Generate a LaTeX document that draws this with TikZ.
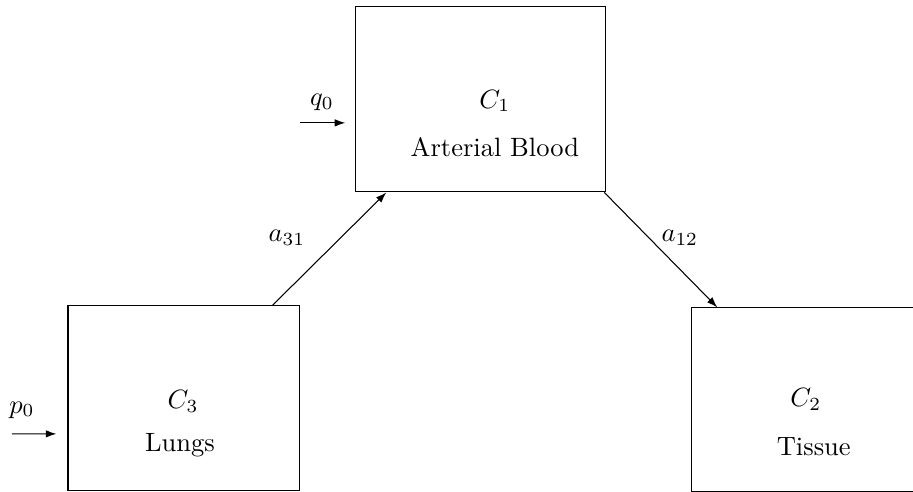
\documentclass[tikz,border=0pt]{standalone}
\usepackage{tikz}
\usetikzlibrary{arrows.meta,positioning}

\begin{document}
\begin{tikzpicture}[
  every node/.style={font=\normalsize},
  comp/.style={draw,minimum width=3.315cm,minimum height=2.453cm,inner sep=0pt},
  lbl/.style={inner sep=1pt},
  flow/.style={-{Latex[length=4pt,width=2.8pt]}}
]
  \clip (0,0) rectangle (12.11,6.524);
  % compartments
  \node[comp] (blood) at (6.378,5.205) {};
  \node[comp,minimum width=3.076cm] (lungs) at (2.440,1.240) {};
  \node[comp,minimum width=3.6cm,minimum height=2.43cm] (tissue) at (10.976,1.225) {};
  \node[lbl] (c1) at (6.564,5.185) {$C_1$};
  \node[lbl] (bloodname) at (6.564,4.575) {Arterial Blood};
  \node[lbl] (c3) at (2.427,1.193) {$C_3$};
  \node[lbl] (lungsname) at (2.387,0.623) {Lungs};
  \node[lbl] (c2) at (10.688,1.220) {$C_2$};
  \node[lbl] (tissuename) at (10.794,0.597) {Tissue};
  % inputs
  \coordinate (qin) at (3.978,4.894);
  \coordinate (pin) at (0.159,0.769);
  \draw[flow] (qin) -- ([xshift=-0.133cm,yshift=-0.311cm]blood.west);
  \draw[flow] (pin) -- ([xshift=-0.146cm,yshift=-0.471cm]lungs.west);
  \node[lbl] (q0) at (4.270,5.171) {$q_0$};
  \node[lbl] (p0) at (0.292,1.087) {$p_0$};
  % exchange
  \draw[flow] ([xshift=-0.371cm]lungs.north east) -- ([xshift=0.411cm]blood.south west);
  \draw[flow] ([xshift=-0.027cm]blood.south east) -- ([xshift=0.345cm]tissue.north west);
  \node[lbl] (a31) at (3.806,3.368) {$a_{31}$};
  \node[lbl] (a12) at (9.017,3.368) {$a_{12}$};
\end{tikzpicture}
\end{document}
